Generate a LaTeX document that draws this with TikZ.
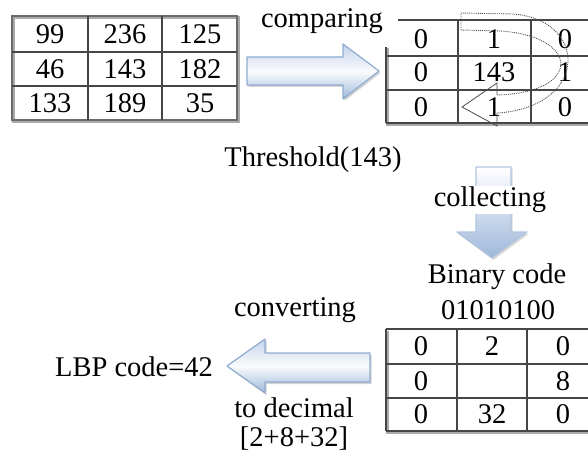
\documentclass[tikz,border=0pt]{standalone}
\usepackage{fontspec}
\setmainfont{Liberation Serif}
\usetikzlibrary{shadows}
\definecolor{aedge}{RGB}{143,172,208}
\definecolor{atop}{RGB}{196,212,234}
\definecolor{abot}{RGB}{158,184,218}
\definecolor{gline}{RGB}{70,70,70}
\definecolor{gshad}{RGB}{170,170,170}
\begin{document}
\begin{tikzpicture}[x=1pt,y=-1pt,
  txt/.style={font=\fontsize{28.5}{30}\selectfont, inner sep=0pt},
  cell/.style={txt, anchor=center},
  lbl/.style={txt, anchor=base},
  tline/.style={draw=gline, line width=1.6pt},
  tshadow/.style={draw=gshad, line width=2.2pt},
  tborder/.style={draw=gline!80, line width=2.6pt},
  blockarrow/.style={draw=aedge, line width=1.2pt, line join=round,
    top color=atop, bottom color=abot, middle color=white!92!atop,
    drop shadow={shadow xshift=1.5pt, shadow yshift=-2pt, opacity=0.35, fill=black!50}},
  downarrow/.style={draw=aedge!70, line width=1.2pt, line join=round,
    top color=white, bottom color=abot,
    drop shadow={shadow xshift=1.5pt, shadow yshift=-2pt, opacity=0.3, fill=black!50}},
  loop/.style={draw=black!70, line width=0.9pt, densely dotted, line join=round},
  looptip/.style={draw=black!70, line width=0.8pt, line join=miter}]
\useasboundingbox (0,0) rectangle (588,454);

% ---------- Table 1 ----------
\draw[tshadow] (13.5,17.5) rectangle (238.5,121.5);
\draw[tborder] (12,16) rectangle (237,120);
\draw[tline] (88,16) -- (88,120) (162,16) -- (162,120)
             (12,52) -- (237,52) (12,86) -- (237,86);
\node[cell] (a11) at (50,34) {99};
\node[cell] (a12) at (125,34) {236};
\node[cell] (a13) at (200,34) {125};
\node[cell] (a21) at (50,69) {46};
\node[cell] (a22) at (125,69) {143};
\node[cell] (a23) at (200,69) {182};
\node[cell] (a31) at (50,103) {133};
\node[cell] (a32) at (125,103) {189};
\node[cell] (a33) at (200,103) {35};

% ---------- comparing arrow ----------
\path[blockarrow] (247,57) -- (343,57) -- (343,44) -- (379,71) -- (343,99)
  -- (343,85) -- (247,85) -- cycle;
\node[lbl] (cmp) at (322,28) {comparing};

% ---------- Table 2 ----------
\draw[tshadow] (387.5,48.5) -- (387.5,124.5) -- (588,124.5);
\draw[draw=gline, line width=2.8pt] (398,20) -- (588,20);
\draw[tline] (386,47) -- (386,123) (458,20) -- (458,123) (531,20) -- (531,123)
             (386,56) -- (588,56) (386,90) -- (588,90) (386,123) -- (588,123);
\node[cell] (b11) at (421,39) {0};
\node[cell] (b12) at (494,39) {1};
\node[cell] (b13) at (565,39) {0};
\node[cell] (b21) at (421,72) {0};
\node[cell] (b22) at (494,72) {143};
\node[cell] (b23) at (565,72) {1};
\node[cell] (b31) at (421,107) {0};
\node[cell] (b32) at (494,107) {1};
\node[cell] (b33) at (565,107) {0};

% circular dotted arrow
\path[loop] (461,30) -- (461,13) -- (512,14)
  .. controls (548,16) and (569,38) .. (568,62)
  .. controls (566,92) and (535,111) .. (497,113);
\path[loop] (461,30) -- (500,31)
  .. controls (535,33) and (560,46) .. (561,64)
  .. controls (560,82) and (535,94) .. (497,95);
\draw[looptip] (497,95) -- (497,83) -- (462,107) -- (497,126) -- (497,113);

\node[lbl] (thr) at (313,167) {Threshold(143)};

% ---------- collecting arrow ----------
\path[downarrow] (476,167) -- (511,167) -- (511,232) -- (527,232) -- (492,258)
  -- (457,232) -- (476,232) -- cycle;
\node[lbl, fill=white, inner sep=1pt] (col) at (490,207) {collecting};

\node[lbl] (bin) at (497,283) {Binary code};
\node[lbl] (bits) at (498,319) {01010100};

% ---------- Table 3 ----------
\draw[tshadow] (387.5,330.5) -- (387.5,432.5) -- (588,432.5);
\draw[tline] (386,329) -- (386,431) (457,329) -- (457,431) (527,329) -- (527,431)
             (386,329) -- (588,329) (386,364) -- (588,364) (386,398) -- (588,398)
             (386,431) -- (588,431);
\node[cell] (c11) at (421,346) {0};
\node[cell] (c12) at (492,346) {2};
\node[cell] (c13) at (563,346) {0};
\node[cell] (c21) at (421,381) {0};
\node[cell] (c23) at (563,381) {8};
\node[cell] (c31) at (421,414) {0};
\node[cell] (c32) at (492,414) {32};
\node[cell] (c33) at (563,414) {0};

% ---------- converting arrow ----------
\path[blockarrow] (370,353) -- (265,353) -- (265,339) -- (227,366) -- (265,393)
  -- (265,382) -- (370,382) -- cycle;
\node[lbl] (conv) at (295,316) {converting};
\node[lbl] (dec) at (294,417) {to decimal};
\node[lbl] (sum) at (294,446) {[2+8+32]};
\node[lbl] (lbp) at (134,376) {LBP code=42};
\end{tikzpicture}
\end{document}
